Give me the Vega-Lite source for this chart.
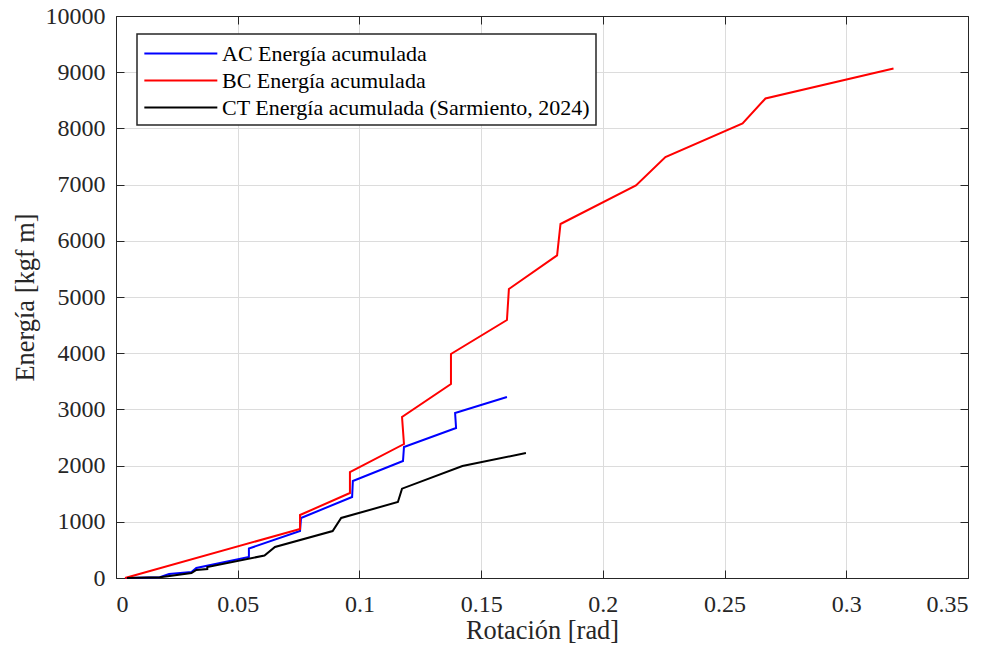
{
  "$schema": "https://vega.github.io/schema/vega-lite/v6.json",
  "width": 852,
  "height": 562,
  "autosize": {"type": "none"},
  "padding": {"left": 116, "top": 16, "right": 29, "bottom": 74},
  "background": "white",
  "config": {
    "view": {"stroke": null},
    "font": "Liberation Serif",
    "legend": {"strokeWidth": 1.5},
    "axis": {
      "domainColor": "#262626",
      "domainWidth": 1,
      "tickColor": "#262626",
      "tickWidth": 1,
      "tickSize": -8,
      "gridColor": "#dcdcdc",
      "gridWidth": 1,
      "labelFont": "Liberation Serif",
      "labelFontSize": 24,
      "labelColor": "#262626",
      "titleFont": "Liberation Serif",
      "titleFontSize": 26.4,
      "titleFontWeight": "normal",
      "titleColor": "#262626"
    }
  },
  "data": {
    "values": [
      {"s": "AC Energía acumulada", "i": 0, "x": 0.004, "y": 0},
      {"s": "AC Energía acumulada", "i": 1, "x": 0.018, "y": 15},
      {"s": "AC Energía acumulada", "i": 2, "x": 0.0218, "y": 71},
      {"s": "AC Energía acumulada", "i": 3, "x": 0.031, "y": 107},
      {"s": "AC Energía acumulada", "i": 4, "x": 0.033, "y": 178},
      {"s": "AC Energía acumulada", "i": 5, "x": 0.0546, "y": 374},
      {"s": "AC Energía acumulada", "i": 6, "x": 0.0546, "y": 525},
      {"s": "AC Energía acumulada", "i": 7, "x": 0.0756, "y": 836},
      {"s": "AC Energía acumulada", "i": 8, "x": 0.076, "y": 1068},
      {"s": "AC Energía acumulada", "i": 9, "x": 0.097, "y": 1441},
      {"s": "AC Energía acumulada", "i": 10, "x": 0.0973, "y": 1726},
      {"s": "AC Energía acumulada", "i": 11, "x": 0.1179, "y": 2082},
      {"s": "AC Energía acumulada", "i": 12, "x": 0.1183, "y": 2331},
      {"s": "AC Energía acumulada", "i": 13, "x": 0.1397, "y": 2669},
      {"s": "AC Energía acumulada", "i": 14, "x": 0.1393, "y": 2936},
      {"s": "AC Energía acumulada", "i": 15, "x": 0.1606, "y": 3221},
      {"s": "BC Energía acumulada", "i": 0, "x": 0.0037, "y": 0},
      {"s": "BC Energía acumulada", "i": 1, "x": 0.0756, "y": 872},
      {"s": "BC Energía acumulada", "i": 2, "x": 0.0756, "y": 1121},
      {"s": "BC Energía acumulada", "i": 3, "x": 0.0961, "y": 1512},
      {"s": "BC Energía acumulada", "i": 4, "x": 0.0961, "y": 1886},
      {"s": "BC Energía acumulada", "i": 5, "x": 0.1183, "y": 2384},
      {"s": "BC Energía acumulada", "i": 6, "x": 0.1175, "y": 2865},
      {"s": "BC Energía acumulada", "i": 7, "x": 0.1376, "y": 3452},
      {"s": "BC Energía acumulada", "i": 8, "x": 0.1376, "y": 3986},
      {"s": "BC Energía acumulada", "i": 9, "x": 0.1606, "y": 4591},
      {"s": "BC Energía acumulada", "i": 10, "x": 0.1614, "y": 5142},
      {"s": "BC Energía acumulada", "i": 11, "x": 0.1812, "y": 5740},
      {"s": "BC Energía acumulada", "i": 12, "x": 0.1826, "y": 6299},
      {"s": "BC Energía acumulada", "i": 13, "x": 0.2136, "y": 6985},
      {"s": "BC Energía acumulada", "i": 14, "x": 0.2257, "y": 7491},
      {"s": "BC Energía acumulada", "i": 15, "x": 0.2574, "y": 8090},
      {"s": "BC Energía acumulada", "i": 16, "x": 0.2668, "y": 8532},
      {"s": "BC Energía acumulada", "i": 17, "x": 0.3194, "y": 9066},
      {"s": "CT Energía acumulada (Sarmiento, 2024)", "i": 0, "x": 0.0045, "y": 0},
      {"s": "CT Energía acumulada (Sarmiento, 2024)", "i": 1, "x": 0.018, "y": 12},
      {"s": "CT Energía acumulada (Sarmiento, 2024)", "i": 2, "x": 0.022, "y": 36},
      {"s": "CT Energía acumulada (Sarmiento, 2024)", "i": 3, "x": 0.031, "y": 89},
      {"s": "CT Energía acumulada (Sarmiento, 2024)", "i": 4, "x": 0.033, "y": 142},
      {"s": "CT Energía acumulada (Sarmiento, 2024)", "i": 5, "x": 0.0375, "y": 160},
      {"s": "CT Energía acumulada (Sarmiento, 2024)", "i": 6, "x": 0.0375, "y": 195},
      {"s": "CT Energía acumulada (Sarmiento, 2024)", "i": 7, "x": 0.061, "y": 400},
      {"s": "CT Energía acumulada (Sarmiento, 2024)", "i": 8, "x": 0.0653, "y": 552},
      {"s": "CT Energía acumulada (Sarmiento, 2024)", "i": 9, "x": 0.089, "y": 836},
      {"s": "CT Energía acumulada (Sarmiento, 2024)", "i": 10, "x": 0.0925, "y": 1068},
      {"s": "CT Energía acumulada (Sarmiento, 2024)", "i": 11, "x": 0.1158, "y": 1352},
      {"s": "CT Energía acumulada (Sarmiento, 2024)", "i": 12, "x": 0.1175, "y": 1590},
      {"s": "CT Energía acumulada (Sarmiento, 2024)", "i": 13, "x": 0.1423, "y": 1993},
      {"s": "CT Energía acumulada (Sarmiento, 2024)", "i": 14, "x": 0.1684, "y": 2224}
    ]
  },
  "layer": [
    {
      "mark": {"type": "line", "strokeWidth": 2},
      "encoding": {
        "x": {"field": "x", "type": "quantitative", "scale": {"domain": [0, 0.35], "nice": false, "zero": false},
              "axis": {"orient": "bottom", "grid": true, "title": "Rotación [rad]", "format": "~g", "labelFont": "Liberation Serif", "labelPadding": 22, "titlePadding": 1, "values": [0, 0.05, 0.1, 0.15, 0.2, 0.25, 0.3, 0.35]}},
        "y": {"field": "y", "type": "quantitative", "scale": {"domain": [0, 10000], "nice": false},
              "axis": {"orient": "left", "grid": true, "title": "Energía [kgf m]", "format": "d", "labelFont": "Liberation Serif", "labelPadding": 19, "titlePadding": 6, "values": [0, 1000, 2000, 3000, 4000, 5000, 6000, 7000, 8000, 9000, 10000]}},
        "color": {
          "field": "s", "type": "nominal",
          "scale": {"domain": ["AC Energía acumulada", "BC Energía acumulada", "CT Energía acumulada (Sarmiento, 2024)"], "range": ["#0000ff", "#ff0000", "#000000"]},
          "legend": {
            "title": null,
            "orient": "none",
            "legendX": 21,
            "legendY": 18,
            "symbolType": "M-1,0H5",
            "symbolSize": 592,
            "symbolStrokeWidth": 2,
            "labelFont": "Liberation Serif",
            "labelFontSize": 22,
            "labelColor": "#000000",
            "labelLimit": 500,
            "labelOffset": 52,
            "strokeColor": "#262626",
            "fillColor": "white",
            "padding": 6,
            "rowPadding": 2
          }
        },
        "order": {"field": "i"}
      }
    },
    {
      "mark": {"type": "line", "opacity": 0},
      "encoding": {
        "x": {"field": "x", "type": "quantitative",
              "axis": {"orient": "top", "labels": false, "title": null, "grid": false, "values": [0, 0.05, 0.1, 0.15, 0.2, 0.25, 0.3, 0.35]}},
        "y": {"field": "y", "type": "quantitative",
              "axis": {"orient": "right", "labels": false, "title": null, "grid": false, "values": [0, 1000, 2000, 3000, 4000, 5000, 6000, 7000, 8000, 9000, 10000]}},
        "detail": {"field": "s"},
        "order": {"field": "i"}
      }
    }
  ]
}
